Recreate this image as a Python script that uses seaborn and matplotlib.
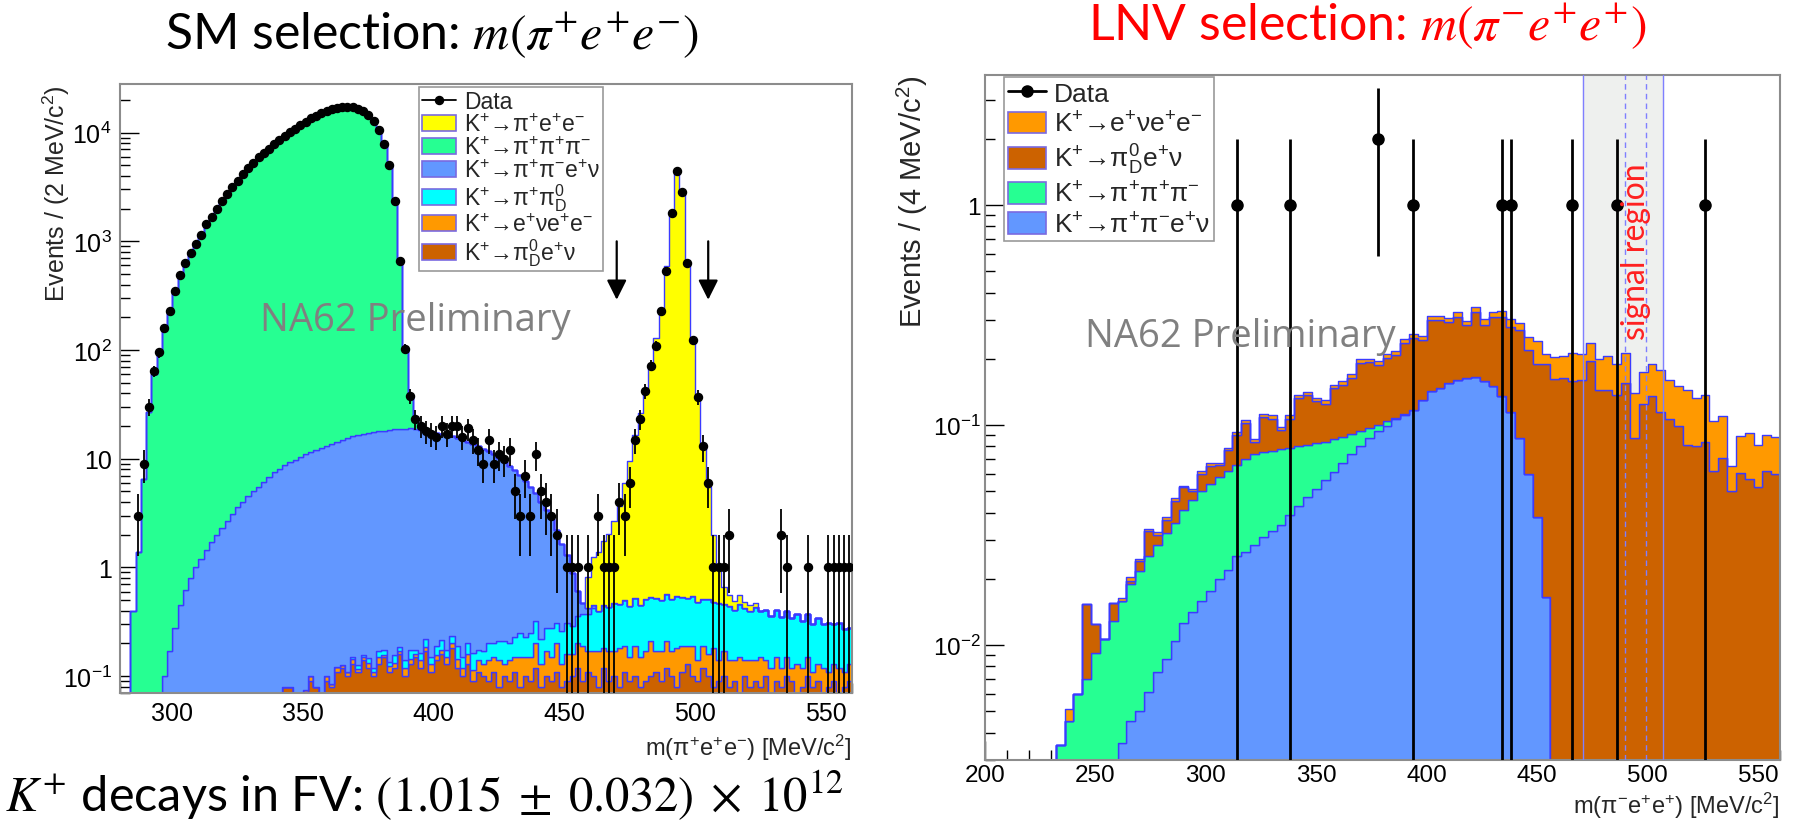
import numpy as np
import pandas as pd
import matplotlib
matplotlib.use("Agg")
import matplotlib.pyplot as plt
import seaborn as sns
from matplotlib.patches import Patch
from matplotlib.lines import Line2D
from matplotlib.ticker import MultipleLocator, LogLocator, FuncFormatter, NullFormatter

# ---------------- LEFT PANEL DATA (2 MeV bins, 280-560) ----------------
left_bin_lo, left_bin_hi, left_bin_w = 280, 560, 2

left_data = [0, 0, 0, 3, 9, 30, 64, 95, 161, 228,
             352, 492, 627, 773, 937, 1137, 1450, 1686, 2003, 2360,
             2706, 3130, 3620, 4150, 4710, 5290, 5910, 6480, 7130, 7790,
             8620, 9290, 10140, 10880, 11730, 12590, 13530, 14290, 15120, 15790,
             16430, 16870, 17250, 17290, 17140, 16580, 15830, 14480, 12840, 10490,
             7830, 5010, 2330, 655, 103, 38, 23, 20, 18, 17,
             16, 20, 17, 20, 20, 16, 19, 15, 12, 9,
             15, 9, 11, 10, 12, 5, 3, 7, 3, 11,
             5, 4, 3, 2, 0, 1, 1, 1, 0, 1,
             0, 3, 1, 1, 1, 4, 3, 6, 15, 23,
             42, 72, 110, 229, 535, 1830, 4400, 2870, 630, 123,
             37, 13, 6, 1, 1, 1, 2, 0, 0, 0,
             0, 0, 0, 0, 0, 0, 2, 1, 0, 0,
             0, 1, 0, 0, 0, 1, 1, 1, 1, 1]

left_pipiee_start = 459   # K+ -> pi+ e+ e-
left_pipiee = [0.4, 0.8, 1.0, 1.3, 1.6, 2.2, 3.2, 5.5, 9.0, 16,
               26, 44, 74, 128, 245, 590, 1880, 4350, 2850, 640,
               125, 36, 12, 5.0, 1.5, 0.5, 0.2, 0.12, 0.08, 0.1,
               0.06, 0.05, 0.04]

left_3pi_start = 285      # K+ -> pi+ pi+ pi-
left_3pi = [0.4, 1.4, 6.5, 27, 60, 95, 160, 225, 350, 490,
            630, 770, 940, 1140, 1450, 1690, 2000, 2360, 2700, 3100,
            3600, 4150, 4700, 5300, 5900, 6500, 7100, 7800, 8600, 9300,
            10100, 10900, 11700, 12600, 13500, 14300, 15100, 15800, 16400, 16900,
            17200, 17300, 17100, 16600, 15800, 14500, 12800, 10500, 7800, 5000,
            2300, 630, 86, 19, 4, 1, 0.3]

left_ke4_start = 297      # K+ -> pi+ pi- e+ nu
left_ke4 = [0.10, 0.17, 0.28, 0.45, 0.62, 0.80, 1.0, 1.2, 1.45, 1.7,
            2.0, 2.3, 2.7, 3.1, 3.6, 4.0, 4.5, 5.0, 5.5, 6.1,
            6.8, 7.5, 8.1, 8.6, 9.2, 9.8, 10.4, 10.9, 11.4, 11.9,
            12.4, 13.0, 13.6, 14.2, 14.8, 15.4, 15.9, 16.4, 16.8, 17.2,
            17.5, 17.7, 18.0, 18.3, 18.5, 18.7, 18.8, 18.8, 18.5, 18.2,
            17.9, 17.5, 17.1, 16.7, 16.3, 15.8, 15.3, 14.8, 14.2, 13.6,
            12.9, 12.2, 11.5, 10.8, 10.0, 9.2, 8.4, 7.6, 6.8, 6.0,
            5.2, 4.5, 3.8, 3.1, 2.5, 1.9, 1.4, 1.0, 0.6, 0.25,
            0.1, 0.05, 0.03]

left_pipi0d_start = 369   # K+ -> pi+ pi0_D
left_pipi0d = [0.005, 0.01, 0.008, 0.015, 0.01, 0.02, 0.015, 0.01, 0.025, 0.015,
               0.02, 0.03, 0.015, 0.025, 0.035, 0.02, 0.03, 0.04, 0.025, 0.035,
               0.045, 0.03, 0.04, 0.05, 0.035, 0.04, 0.06, 0.05, 0.07, 0.08,
               0.06, 0.08, 0.10, 0.08, 0.10, 0.12, 0.09, 0.11, 0.13, 0.11,
               0.13, 0.15, 0.13, 0.16, 0.18, 0.20, 0.25, 0.23, 0.27, 0.26,
               0.30, 0.28, 0.31, 0.29, 0.33, 0.30, 0.34, 0.32, 0.35, 0.33,
               0.36, 0.34, 0.37, 0.35, 0.33, 0.36, 0.34, 0.32, 0.35, 0.30,
               0.33, 0.29, 0.30, 0.27, 0.31, 0.28, 0.26, 0.29, 0.25, 0.27,
               0.24, 0.26, 0.23, 0.25, 0.22, 0.24, 0.20, 0.22, 0.19, 0.21,
               0.18, 0.20, 0.17, 0.19, 0.16, 0.15]

left_enuee_start = 351    # K+ -> e+ nu e+ e-
left_enuee = [0.005, 0.01, 0.0, 0.008, 0.01, 0.005, 0.012, 0.008, 0.01, 0.015,
              0.006, 0.01, 0.012, 0.01, 0.02, 0.008, 0.015, 0.012, 0.01, 0.02,
              0.015, 0.01, 0.02, 0.015, 0.02, 0.018, 0.015, 0.02, 0.02, 0.025,
              0.02, 0.03, 0.025, 0.03, 0.03, 0.05, 0.04, 0.06, 0.03, 0.05,
              0.04, 0.07, 0.05, 0.06, 0.08, 0.05, 0.07, 0.06, 0.09, 0.05,
              0.07, 0.06, 0.08, 0.10, 0.06, 0.07, 0.09, 0.06, 0.08, 0.07,
              0.10, 0.08, 0.06, 0.09, 0.07, 0.08, 0.11, 0.06, 0.08, 0.09,
              0.07, 0.10, 0.08, 0.06, 0.09, 0.05, 0.07, 0.06, 0.10, 0.05,
              0.07, 0.06, 0.05, 0.08, 0.04, 0.06, 0.05, 0.07, 0.04, 0.05,
              0.06, 0.04, 0.05, 0.03, 0.06, 0.04, 0.05, 0.03, 0.04, 0.05,
              0.03, 0.04, 0.05, 0.03, 0.04]

left_pi0denu_start = 343  # K+ -> pi0_D e+ nu
left_pi0denu = [0.08, 0.08, 0.0, 0.0, 0.07, 0.09, 0.08, 0.06, 0.09, 0.08,
                0.11, 0.12, 0.10, 0.13, 0.11, 0.14, 0.12, 0.10, 0.13, 0.15,
                0.11, 0.12, 0.16, 0.10, 0.13, 0.15, 0.12, 0.17, 0.11, 0.14,
                0.16, 0.13, 0.18, 0.12, 0.10, 0.13, 0.09, 0.11, 0.10, 0.09,
                0.11, 0.08, 0.10, 0.09, 0.11, 0.08, 0.10, 0.09, 0.12, 0.08,
                0.10, 0.09, 0.11, 0.08, 0.09, 0.10, 0.12, 0.09, 0.11, 0.10,
                0.08, 0.12, 0.09, 0.10, 0.08, 0.11, 0.09, 0.10, 0.08, 0.09,
                0.10, 0.11, 0.09, 0.12, 0.10, 0.08, 0.11, 0.13, 0.10, 0.09,
                0.12, 0.10, 0.08, 0.09, 0.10, 0.08, 0.09, 0.07, 0.10, 0.08,
                0.09, 0.08, 0.10, 0.07, 0.09, 0.08, 0.10, 0.09, 0.07, 0.08,
                0.10, 0.08, 0.09, 0.07, 0.08, 0.09, 0.07, 0.08, 0.09]

left_labels = ["K$^{+}$→π$^{+}$e$^{+}$e$^{-}$",
               "K$^{+}$→π$^{+}$π$^{+}$π$^{-}$",
               "K$^{+}$→π$^{+}$π$^{-}$e$^{+}$ν",
               "K$^{+}$→π$^{+}$π$^{0}_{\\mathrm{D}}$",
               "K$^{+}$→e$^{+}$νe$^{+}$e$^{-}$",
               "K$^{+}$→π$^{0}_{\\mathrm{D}}$e$^{+}$ν"]
left_colors = ["#ffff00", "#26ff92", "#6297ff", "#00ffff", "#ff9900", "#cc6200"]
left_cuts = [470, 505]

# ---------------- RIGHT PANEL DATA (4 MeV bins, 200-560) ----------------
right_bin_lo, right_bin_hi, right_bin_w = 200, 560, 4

right_data_mass = [314, 338, 378, 394, 434, 438, 466, 486, 526]
right_data_count = [1, 1, 2, 1, 1, 1, 1, 1, 1]

right_enuee_start = 238   # K+ -> e+ nu e+ e-
right_enuee = [0.0006, 0, 0, 0, 0, 0, 0.0005, 0.0008, 0.0006, 0.001,
               0.001, 0.0012, 0.0015, 0.001, 0.0012, 0.0015, 0.002, 0.0015, 0.002, 0.0025,
               0.003, 0.002, 0.003, 0.0035, 0.003, 0.004, 0.005, 0.004, 0.005, 0.006,
               0.005, 0.006, 0.007, 0.008, 0.006, 0.008, 0.009, 0.008, 0.01, 0.012,
               0.01, 0.012, 0.014, 0.012, 0.015, 0.014, 0.016, 0.018, 0.017, 0.02,
               0.022, 0.02, 0.03, 0.05, 0.02, 0.042, 0.042, 0.054, 0.05, 0.04,
               0.055, 0.06, 0.053, 0.057, 0.053, 0.051, 0.055, 0.063, 0.054, 0.051,
               0.064, 0.053, 0.053, 0.042, 0.039, 0.015, 0.028, 0.035, 0.029, 0.028,
               0.028]

right_pi0denu_start = 238  # K+ -> pi0_D e+ nu
right_pi0denu = [0.0, 0.0, 0.0083, 0.0032, 0.0, 0.0026, 0.0, 0.0005, 0.0024, 0.0073,
                 0.003, 0.0046, 0.009, 0.011, 0.0045, 0.010, 0.011, 0.008, 0.015, 0.024,
                 0.032, 0.0105, 0.034, 0.0305, 0.017, 0.028, 0.052, 0.056, 0.0455, 0.040,
                 0.061, 0.064, 0.072, 0.097, 0.097, 0.088, 0.097, 0.100, 0.123, 0.131,
                 0.113, 0.158, 0.153, 0.14, 0.15, 0.121, 0.161, 0.126, 0.16, 0.175,
                 0.165, 0.183, 0.16, 0.152, 0.1735, 0.16, 0.163, 0.158, 0.16, 0.195,
                 0.145, 0.145, 0.137, 0.155, 0.087, 0.124, 0.135, 0.115, 0.106, 0.099,
                 0.081, 0.08, 0.084, 0.062, 0.071, 0.050, 0.0607, 0.057, 0.052, 0.062,
                 0.060]

right_3pi_start = 234      # K+ -> pi+ pi+ pi-
right_3pi = [0.0035, 0.0045, 0.0060, 0.0070, 0.0092, 0.0106, 0.0129, 0.0122, 0.0145, 0.0166,
             0.0194, 0.0211, 0.0238, 0.0256, 0.0284, 0.0314, 0.0342, 0.0364, 0.038, 0.040,
             0.0407, 0.0435, 0.0449, 0.044, 0.0435, 0.043, 0.040, 0.037, 0.034, 0.0315,
             0.028, 0.025, 0.021, 0.0175, 0.014, 0.0097, 0.0064, 0.0054, 0.002, 0.001]

right_ke4_start = 262      # K+ -> pi+ pi- e+ nu
right_ke4 = [0.0036, 0.0045, 0.0050, 0.0061, 0.0075, 0.0086, 0.0104, 0.0126, 0.0141, 0.0158,
             0.0176, 0.0200, 0.0220, 0.0253, 0.0265, 0.0286, 0.0310, 0.0330, 0.0350, 0.0390,
             0.0430, 0.0470, 0.0510, 0.0560, 0.0610, 0.0670, 0.0735, 0.0800, 0.0873, 0.0936,
             0.0986, 0.106, 0.111, 0.117, 0.130, 0.142, 0.147, 0.155, 0.160, 0.163,
             0.166, 0.158, 0.150, 0.135, 0.115, 0.087, 0.060, 0.038, 0.0165, 0.0025]

right_labels = ["K$^{+}$→e$^{+}$νe$^{+}$e$^{-}$",
                "K$^{+}$→π$^{0}_{\\mathrm{D}}$e$^{+}$ν",
                "K$^{+}$→π$^{+}$π$^{+}$π$^{-}$",
                "K$^{+}$→π$^{+}$π$^{-}$e$^{+}$ν"]
right_colors = ["#ff9900", "#cc6200", "#26ff92", "#6297ff"]
signal_region = [471, 507]
signal_inner = [490, 499.5]

# ---------------- STYLE ----------------
sns.set_style("ticks")
plt.rcParams['font.family'] = ['Liberation Sans', 'DejaVu Sans']
plt.rcParams['mathtext.fontset'] = 'custom'
plt.rcParams['mathtext.rm'] = 'Liberation Sans'
plt.rcParams['mathtext.it'] = 'Liberation Sans:italic'
plt.rcParams['mathtext.bf'] = 'Liberation Sans:bold'
plt.rcParams['mathtext.sf'] = 'Liberation Sans'
plt.rcParams['axes.unicode_minus'] = True

EDGE = "#3b3bff"
FRAME = "#8c8c8c"

W, H = 1794, 828
fig = plt.figure(figsize=(W / 100, H / 100), dpi=100)
fig.patch.set_facecolor("white")


def build_frame(components, labels, width):
    rows = []
    for (start, vals), lab in zip(components, labels):
        for i, v in enumerate(vals):
            rows.append({"mass": start + i * width, "events": v, "process": lab})
    return pd.DataFrame(rows)


def style_axis(ax, labelsize, pad):
    for sp in ax.spines.values():
        sp.set_color(FRAME)
        sp.set_linewidth(1.5)
    ax.tick_params(axis="both", which="both", direction="in", top=False, right=False,
                   colors="black", labelcolor="black", width=1.0)
    ax.tick_params(axis="both", which="major", length=14, labelsize=labelsize, pad=pad)
    ax.tick_params(axis="both", which="minor", length=7)
    ax.xaxis.set_major_locator(MultipleLocator(50))
    ax.xaxis.set_minor_locator(MultipleLocator(10))
    ax.yaxis.set_major_locator(LogLocator(base=10, numticks=20))
    ax.yaxis.set_minor_locator(LogLocator(base=10, subs=np.arange(2, 10), numticks=20))
    ax.yaxis.set_minor_formatter(NullFormatter())


def log_label(v, pos):
    e = int(round(np.log10(v)))
    if e == 0:
        return "1"
    if e == 1:
        return "10"
    return "$10^{%d}$" % e


# ---------------- LEFT PANEL ----------------
ax1 = fig.add_axes([120 / W, (H - 694) / H, 732 / W, 609 / H])
dfL = build_frame([(left_pipiee_start, left_pipiee), (left_3pi_start, left_3pi),
                   (left_ke4_start, left_ke4), (left_pipi0d_start, left_pipi0d),
                   (left_enuee_start, left_enuee), (left_pi0denu_start, left_pi0denu)],
                  left_labels, left_bin_w)
sns.histplot(data=dfL, x="mass", weights="events", hue="process", hue_order=left_labels,
             palette=dict(zip(left_labels, left_colors)),
             binwidth=left_bin_w, binrange=(left_bin_lo, left_bin_hi),
             multiple="stack", element="step", fill=True, alpha=1,
             edgecolor=EDGE, linewidth=1.0, legend=False, ax=ax1)
ax1.set_yscale("log")
ax1.set_xlim(left_bin_lo, left_bin_hi)
ax1.set_ylim(0.07, 2.8e4)

lc = np.arange(left_bin_lo, left_bin_hi, left_bin_w) + left_bin_w / 2
ld = np.array(left_data, dtype=float)
m = ld > 0
ax1.errorbar(lc[m], ld[m], yerr=np.sqrt(ld[m]), xerr=left_bin_w / 2, fmt="o",
             color="black", ms=5.8, lw=1.3, capsize=0, zorder=6)

for xc in left_cuts:
    ax1.annotate("", xy=(xc, 290), xytext=(xc, 1000),
                 arrowprops=dict(arrowstyle="-|>", color="black", lw=1.6,
                                 mutation_scale=30, shrinkA=0, shrinkB=0), zorder=7)

style_axis(ax1, 18, 6)
ax1.yaxis.set_major_formatter(FuncFormatter(log_label))
ax1.set_xlabel("m(π$^{+}$e$^{+}$e$^{-}$) [MeV/c$^{2}$]", fontsize=17, loc="right")
ax1.xaxis.set_label_coords(1.0, -0.063)
ax1.set_ylabel("Events / (2 MeV/c$^{2}$)", fontsize=18, loc="top")
ax1.yaxis.set_label_coords(-0.066, 1.0)

ax1.text(0.191, 0.6125, "NA62 Preliminary", transform=ax1.transAxes, fontsize=27.5,
         family="Open Sans", color="#808080", ha="left", va="center", zorder=8)

hL = [Line2D([0], [0], color="black", marker="o", ms=5.8, lw=1.3)] + \
     [Patch(facecolor=c, edgecolor="#7a6ae0", linewidth=1.2) for c in left_colors]
legL = ax1.legend(hL, ["Data"] + left_labels, loc="upper left", bbox_to_anchor=(0.4085, 0.995),
                  fontsize=16.5, frameon=True, fancybox=False, framealpha=1,
                  edgecolor="#9a9a9a", borderpad=0.12, labelspacing=0.0,
                  handlelength=1.5, handleheight=0.7, handletextpad=0.35, borderaxespad=0)
legL.get_frame().set_linewidth(1.2)
legL.set_zorder(9)

# ---------------- RIGHT PANEL ----------------
ax2 = fig.add_axes([985 / W, (H - 761) / H, 795 / W, 685 / H])
ax2.axvspan(signal_region[0], signal_region[1], color="#eef0ee", zorder=0)
dfR = build_frame([(right_enuee_start, right_enuee), (right_pi0denu_start, right_pi0denu),
                   (right_3pi_start, right_3pi), (right_ke4_start, right_ke4)],
                  right_labels, right_bin_w)
sns.histplot(data=dfR, x="mass", weights="events", hue="process", hue_order=right_labels,
             palette=dict(zip(right_labels, right_colors)),
             binwidth=right_bin_w, binrange=(right_bin_lo, right_bin_hi),
             multiple="stack", element="step", fill=True, alpha=1,
             edgecolor=EDGE, linewidth=1.0, legend=False, ax=ax2)
ax2.set_yscale("log")
ax2.set_xlim(right_bin_lo, right_bin_hi)
ax2.set_ylim(0.003, 3.9)

for xv in signal_region:
    ax2.axvline(xv, color="#7f7fff", lw=1.0, zorder=4)
for xv in signal_inner:
    ax2.axvline(xv, color="#7f7fff", lw=1.0, ls=(0, (4, 3)), zorder=4)

rd = np.array(right_data_count, dtype=float)
ax2.errorbar(right_data_mass, rd, yerr=np.sqrt(rd), xerr=right_bin_w / 2, fmt="o",
             color="black", ms=8, lw=2.0, capsize=0, zorder=6)

style_axis(ax2, 17.5, 3)
ax2.yaxis.set_major_formatter(FuncFormatter(log_label))
ax2.set_xlabel("m(π$^{-}$e$^{+}$e$^{+}$) [MeV/c$^{2}$]", fontsize=17, loc="right")
ax2.xaxis.set_label_coords(1.0, -0.044)
ax2.set_ylabel("Events / (4 MeV/c$^{2}$)", fontsize=21, loc="top")
ax2.yaxis.set_label_coords(-0.069, 1.0)

ax2.text(0.126, 0.6195, "NA62 Preliminary", transform=ax2.transAxes, fontsize=27.5,
         family="Open Sans", color="#808080", ha="left", va="center", zorder=8)
ax2.text(0.819, 0.743, "signal region", transform=ax2.transAxes, fontsize=23,
         family="Lato", color="#ff2020", rotation=90, ha="center", va="center", zorder=8)

hR = [Line2D([0], [0], color="black", marker="o", ms=8, lw=2.0)] + \
     [Patch(facecolor=c, edgecolor="#7a6ae0", linewidth=1.2) for c in right_colors]
legR = ax2.legend(hR, ["Data"] + right_labels, loc="upper left", bbox_to_anchor=(0.024, 0.997),
                  fontsize=19, frameon=True, fancybox=False, framealpha=1,
                  edgecolor="#9a9a9a", borderpad=0.15, labelspacing=0.2,
                  handlelength=1.45, handleheight=0.9, handletextpad=0.3, borderaxespad=0)
legR.get_frame().set_linewidth(1.2)
legR.set_zorder(9)

# ---------------- TITLES / FOOTER ----------------
fig.text(432 / W, 1 - 35 / H, r"SM selection: $m(\pi^{+}e^{+}e^{-})$", fontsize=36,
         family="Lato", math_fontfamily="stix", ha="center", va="center", color="black")
fig.text(1367 / W, 1 - 26 / H, r"LNV selection: $m(\pi^{-}e^{+}e^{+})$", fontsize=36,
         family="Lato", math_fontfamily="stix", ha="center", va="center", color="#ff0000")
fig.text(5 / W, 1 - 796 / H,
         r"$K^{+}$ decays in FV: $(1.015\;\pm\;0.032)\;\times\;10^{12}$",
         fontsize=35, family="Lato", math_fontfamily="stix", ha="left", va="center",
         color="black")

fig.savefig("out.png", dpi=100, facecolor="white")
